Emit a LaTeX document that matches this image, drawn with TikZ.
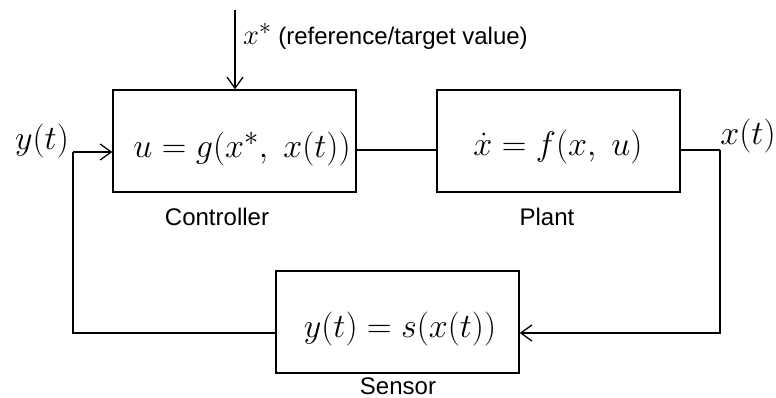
\documentclass[tikz,border=0pt]{standalone}
\usepackage{graphicx}
\usepackage{fontspec}
\setmainfont{Liberation Sans}
\usetikzlibrary{arrows.meta}
% enlarged math, built from the largest fixed Computer Modern size
\newcommand{\bigmath}[1]{\scalebox{1.37}{\fontsize{24.88}{30}\selectfont$#1$}}
\newcommand{\refmath}[1]{\scalebox{1.15}{\fontsize{24.88}{30}\selectfont$#1$}}
\begin{document}
\begin{tikzpicture}[x=1pt,y=-1pt,
  block/.style={draw,line width=1.5pt,minimum width=243pt,minimum height=102pt,inner sep=0pt},
  wire/.style={line width=1.3pt},
  arr/.style={wire,-{Straight Barb[length=11pt,width=16pt,line width=1.3pt]}},
  mathtxt/.style={inner sep=0pt},
  caption/.style={font=\fontsize{24}{28}\selectfont,inner sep=0pt}]
\useasboundingbox (0,0) rectangle (776,398);

% blocks
\node[block] (ctrl) at (234.5,141) {};
\node[block] (plant) at (558.5,141) {};
\node[block] (sensor) at (397.5,322) {};

% block contents
\node[mathtxt] (gtxt) at (242,149) {\bigmath{u = g\bigl(x^*,\ x(t)\bigr)}};
\node[mathtxt] (ftxt) at (558,147) {\bigmath{\dot{x} = f(x,\ u)}};
\node[mathtxt] (stxt) at (400,329) {\bigmath{y(t) = s(x(t))}};

% block captions
\node[caption] (clab) at (217,217) {Controller};
\node[caption] (plab) at (547,217) {Plant};
\node[caption] (slab) at (398,386) {Sensor};

% signal labels
\node[caption,anchor=base west] (reflab) at (243,45) {\refmath{x^*}\ (reference/target value)};
\node[mathtxt] (ylab) at (42,141) {\bigmath{y(t)}};
\node[mathtxt] (xlab) at (748,136) {\bigmath{x(t)}};

% connectors
\coordinate (ref) at (235,10);
\coordinate (xr) at (720,150);
\coordinate (xl) at (73,152);
\draw[arr] (ref) -- (ref |- ctrl.north);
\draw[wire] ([yshift=-9pt]ctrl.east) -- ([yshift=-9pt]plant.west);
\draw[wire] ([yshift=-9pt]plant.east) -- (xr);
\draw[arr] (xr) |- ([yshift=-11pt]sensor.east);
\draw[wire] ([yshift=-11pt]sensor.west) -| (xl);
\draw[arr] (xl) -- ([yshift=-11pt]ctrl.west);
\end{tikzpicture}
\end{document}
